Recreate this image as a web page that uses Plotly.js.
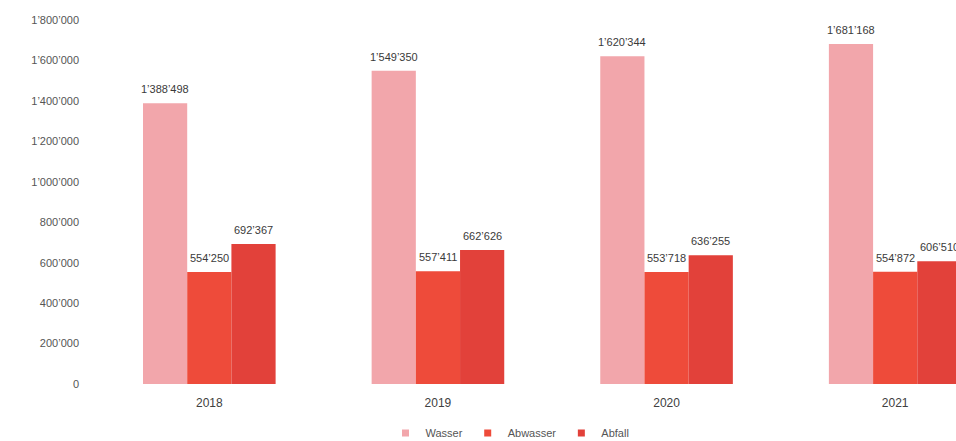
<!DOCTYPE html>
<html>
<head>
<meta charset="utf-8">
<script src="https://cdn.plot.ly/plotly-3.0.1.min.js"></script>
<style>html,body{margin:0;padding:0;background:#fff;}#chart{width:956px;height:441px;}</style>
</head>
<body>
<div id="chart"></div>
<script>
const years = ['2018', '2019', '2020', '2021'];
const wasser = [1388498, 1549350, 1620344, 1681168];
const abwasser = [554250, 557411, 553718, 554872];
const abfall = [692367, 662626, 636255, 606510];
const seriesNames = ['Wasser', 'Abwasser', 'Abfall'];
const seriesColors = ['#f2a6ab', '#ee4b3a', '#e2413a'];
const yTicks = [0, 200000, 400000, 600000, 800000, 1000000, 1200000, 1400000, 1600000, 1800000];

const FONT = 'Liberation Sans, Arial, sans-serif';
const BARGAP = 0.42;
const values = [wasser, abwasser, abfall];
const traces = values.map((v, i) => ({
  type: 'bar',
  name: seriesNames[i],
  x: years,
  y: v,
  marker: {color: seriesColors[i]},
  hoverinfo: 'x+y+name',
  showlegend: false
}));
// legend entries
seriesNames.forEach((n, i) => traces.push({
  type: 'scatter', mode: 'markers', name: n, x: [null], y: [null],
  marker: {symbol: 'square', size: 7, color: seriesColors[i]},
  showlegend: true
}));

// value labels anchored to each bar through the axis scales
const fmt = n => String(n).replace(/\B(?=(\d{3})+(?!\d))/g, '\u2019');
const annotations = [];
values.forEach((v, i) => {
  v.forEach((val, j) => {
    annotations.push({
      xref: 'x', yref: 'y',
      x: j + (i - 1) * (1 - BARGAP) / 3,
      y: val,
      text: fmt(val),
      showarrow: false,
      xanchor: 'center', yanchor: 'bottom',
      yshift: 6,
      font: {family: FONT, size: 11, color: '#3a3a3a'}
    });
  });
});

const layout = {
  width: 956, height: 441,
  margin: {l: 95, r: 0, t: 20, b: 57, autoexpand: false},
  paper_bgcolor: '#ffffff', plot_bgcolor: '#ffffff',
  separators: '.\u2019',
  barmode: 'group',
  bargap: BARGAP,
  bargroupgap: 0,
  font: {family: FONT, size: 11, color: '#555555'},
  xaxis: {
    type: 'category',
    range: [-0.5, 3.266],
    showgrid: false, zeroline: false, showline: false,
    ticks: '', ticklabelstandoff: 10,
    tickfont: {size: 12, color: '#404040'},
    fixedrange: true
  },
  yaxis: {
    range: [0, 1800000],
    tickvals: yTicks,
    tickformat: ',d',
    showgrid: false, zeroline: false, showline: false,
    ticks: '', ticklabelstandoff: 15,
    tickfont: {size: 11, color: '#555555'},
    fixedrange: true
  },
  annotations: annotations,
  showlegend: true,
  legend: {
    orientation: 'h', x: 0.482, xref: 'paper', xanchor: 'center',
    y: -0.095, yanchor: 'top',
    font: {size: 11, color: '#555555'},
    itemwidth: 30, bgcolor: 'rgba(0,0,0,0)'
  }
};
Plotly.newPlot('chart', traces, layout, {displayModeBar: false, staticPlot: true});
</script>
</body>
</html>
